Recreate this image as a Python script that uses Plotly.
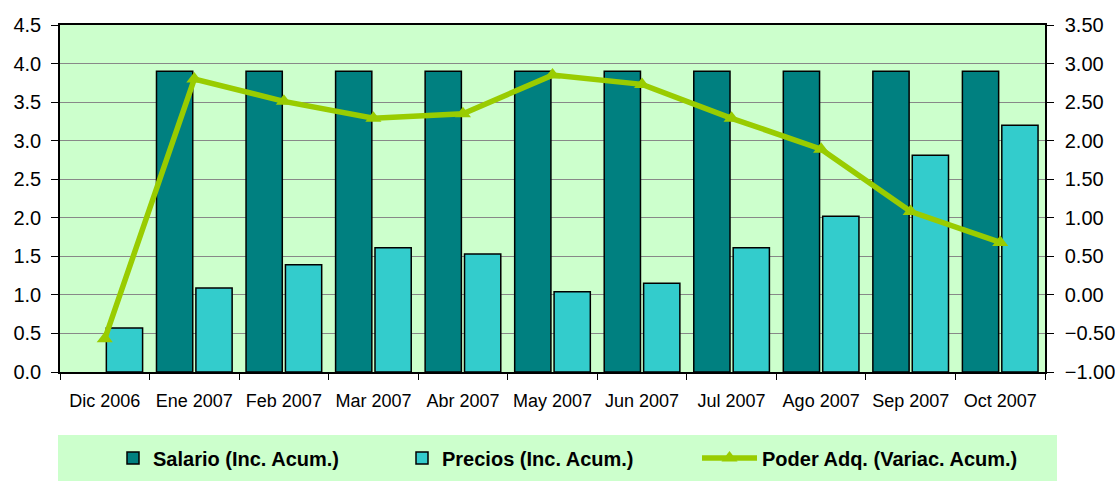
import plotly.graph_objects as go

categories = ["Dic 2006", "Ene 2007", "Feb 2007", "Mar 2007", "Abr 2007", "May 2007",
              "Jun 2007", "Jul 2007", "Ago 2007", "Sep 2007", "Oct 2007"]
salario = [None, 3.9, 3.9, 3.9, 3.9, 3.9, 3.9, 3.9, 3.9, 3.9, 3.9]
precios = [0.57, 1.09, 1.39, 1.61, 1.53, 1.04, 1.15, 1.61, 2.02, 2.81, 3.20]
poder = [-0.57, 2.80, 2.51, 2.29, 2.35, 2.85, 2.73, 2.29, 1.89, 1.08, 0.68]

FONT = "Liberation Sans, Arial, sans-serif"
L, R, T, B = 60, 70, 25, 109
W, H = 1115, 481
PW = W - L - R
PH = H - T - B


def px_x(px):
    return (px - L) / PW


def px_y(py):
    return (H - B - py) / PH


fig = go.Figure()
fig.add_trace(go.Bar(
    x=categories, y=salario, name="Salario (Inc. Acum.)", legend="legend2",
    showlegend=True,
    marker=dict(color="#008080", line=dict(color="#000000", width=1.5)),
))
fig.add_trace(go.Bar(
    x=categories, y=precios, name="Precios (Inc. Acum.)", legend="legend3",
    showlegend=True,
    marker=dict(color="#33CCCC", line=dict(color="#000000", width=1.5)),
))
fig.add_trace(go.Scatter(
    x=categories, y=poder, name="Poder Adq. (Variac. Acum.)", yaxis="y2",
    legend="legend4", showlegend=True,
    mode="lines+markers",
    line=dict(color="#99CC00", width=5.5),
    marker=dict(symbol="triangle-up", size=14, color="#99CC00"),
))

legfont = dict(size=20, family=FONT, color="#000000", weight="bold")
legy = px_y(458)


def leg(x_px, **kw):
    d = dict(
        orientation="h", x=px_x(x_px), xanchor="left",
        y=legy, yanchor="middle", bgcolor="rgba(0,0,0,0)",
        font=legfont, borderwidth=0,
    )
    d.update(kw)
    return d


fig.update_layout(
    width=W, height=H,
    margin=dict(l=L, r=R, t=T, b=B, autoexpand=False),
    paper_bgcolor="#FFFFFF",
    plot_bgcolor="#CCFFCC",
    barmode="group",
    bargap=0.12,
    bargroupgap=0.08,
    font=dict(family=FONT, color="#000000"),
    xaxis=dict(
        type="category", automargin=False,
        range=[-0.5, len(categories) - 0.5],
        tickson="boundaries", tickangle=0,
        ticks="outside", ticklen=6, tickcolor="#000000",
        ticklabelstandoff=12,
        showline=True, linecolor="#000000", linewidth=1.5, mirror=True,
        showgrid=False,
        tickfont=dict(size=18, family=FONT),
    ),
    yaxis=dict(
        range=[0, 4.5], dtick=0.5, tickformat=".1f", automargin=False,
        ticks="outside", ticklen=7, tickcolor="#000000",
        ticklabelstandoff=6,
        showline=True, linecolor="#000000", linewidth=1.5,
        showgrid=True, gridcolor="#888888", gridwidth=1,
        zeroline=False,
        tickfont=dict(size=20, family=FONT),
    ),
    yaxis2=dict(
        range=[-1, 3.5], dtick=0.5, tickformat=".2f", automargin=False,
        overlaying="y", side="right",
        ticks="outside", ticklen=7, tickcolor="#000000",
        ticklabelstandoff=7,
        showline=True, linecolor="#000000", linewidth=1.5,
        showgrid=False, zeroline=False,
        tickfont=dict(size=20, family=FONT),
    ),
    legend2=leg(113),
    legend3=leg(402),
    legend4=leg(697, itemwidth=55),
    shapes=[dict(
        type="rect", xref="paper", yref="paper",
        x0=px_x(58), x1=px_x(1057), y0=px_y(435), y1=px_y(481),
        fillcolor="#CCFFCC", line=dict(width=0), layer="below",
    )],
)

fig.write_html(
    "out.html",
    config={"displayModeBar": False},
    post_script="document.body.style.margin='0';document.body.style.overflow='hidden';",
)
